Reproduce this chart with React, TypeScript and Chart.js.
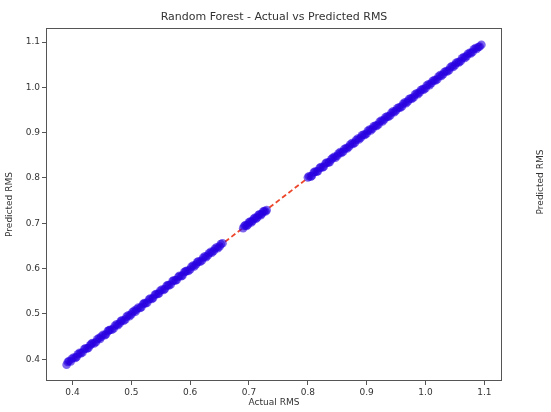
import React, { useEffect, useRef } from 'react';
import { Chart, registerables } from 'chart.js';

Chart.register(...registerables);

const CHART_TITLE = 'Random Forest - Actual vs Predicted RMS';
const X_LABEL = 'Actual RMS';
const Y_LABEL = 'Predicted RMS';
const RIGHT_LABEL = 'Predicted RMS';

const X_TICKS = [0.4, 0.5, 0.6, 0.7, 0.8, 0.9, 1.0, 1.1];
const Y_TICKS = [0.4, 0.5, 0.6, 0.7, 0.8, 0.9, 1.0, 1.1];

const ACTUAL = [
  0.390, 0.394, 0.399, 0.405, 0.409, 0.414, 0.420, 0.425, 0.430, 0.434, 0.440, 0.445, 0.449, 0.455,
  0.460, 0.464, 0.470, 0.475, 0.480, 0.484, 0.490, 0.495, 0.500, 0.505, 0.509, 0.515, 0.520, 0.524,
  0.530, 0.535, 0.540, 0.545, 0.549, 0.555, 0.560, 0.564, 0.570, 0.575, 0.580, 0.585, 0.590, 0.594,
  0.600, 0.605, 0.610, 0.614, 0.620, 0.625, 0.630, 0.635, 0.640, 0.645, 0.650, 0.655,
  0.690, 0.694, 0.698, 0.702, 0.706, 0.710, 0.714, 0.718, 0.722, 0.726, 0.730,
  0.800, 0.805, 0.810, 0.815, 0.820, 0.825, 0.830, 0.835, 0.840, 0.845, 0.850, 0.855, 0.860, 0.865,
  0.870, 0.875, 0.880, 0.885, 0.890, 0.895, 0.900, 0.905, 0.910, 0.915, 0.920, 0.925, 0.930, 0.935,
  0.940, 0.945, 0.950, 0.955, 0.960, 0.965, 0.970, 0.975, 0.980, 0.985, 0.990, 0.995, 1.000, 1.005,
  1.010, 1.015, 1.020, 1.025, 1.030, 1.035, 1.040, 1.045, 1.050, 1.055, 1.060, 1.065, 1.070, 1.075,
  1.080, 1.085, 1.090, 1.095,
  0.392, 0.397, 0.402, 0.407, 0.412, 0.417, 0.422, 0.427, 0.432, 0.437, 0.442, 0.447, 0.452, 0.457,
  0.462, 0.467, 0.472, 0.477, 0.482, 0.487, 0.492, 0.497, 0.502, 0.507, 0.512, 0.517, 0.522, 0.527,
  0.532, 0.537, 0.542, 0.547, 0.552, 0.557, 0.562, 0.567, 0.572, 0.577, 0.582, 0.587, 0.592, 0.597,
  0.602, 0.607, 0.612, 0.617, 0.622, 0.627, 0.632, 0.637, 0.642, 0.647, 0.652,
  0.692, 0.696, 0.700, 0.704, 0.708, 0.712, 0.716, 0.720, 0.724, 0.728,
  0.802, 0.807, 0.812, 0.817, 0.822, 0.827, 0.832, 0.837, 0.842, 0.847, 0.852, 0.857, 0.862, 0.867,
  0.872, 0.877, 0.882, 0.887, 0.892, 0.897, 0.902, 0.907, 0.912, 0.917, 0.922, 0.927, 0.932, 0.937,
  0.942, 0.947, 0.952, 0.957, 0.962, 0.967, 0.972, 0.977, 0.982, 0.987, 0.992, 0.997, 1.002, 1.007,
  1.012, 1.017, 1.022, 1.027, 1.032, 1.037, 1.042, 1.047, 1.052, 1.057, 1.062, 1.067, 1.072, 1.077,
  1.082, 1.087, 1.092,
];

const PREDICTED = [
  0.388, 0.396, 0.401, 0.403, 0.411, 0.413, 0.422, 0.424, 0.431, 0.436, 0.438, 0.447, 0.450, 0.453,
  0.462, 0.465, 0.468, 0.477, 0.479, 0.486, 0.488, 0.497, 0.499, 0.507, 0.510, 0.513, 0.522, 0.523,
  0.532, 0.533, 0.542, 0.544, 0.551, 0.553, 0.562, 0.563, 0.572, 0.574, 0.582, 0.583, 0.592, 0.595,
  0.598, 0.607, 0.609, 0.616, 0.618, 0.627, 0.629, 0.637, 0.639, 0.647, 0.649, 0.656,
  0.689, 0.696, 0.697, 0.704, 0.705, 0.712, 0.713, 0.720, 0.721, 0.727, 0.729,
  0.801, 0.803, 0.812, 0.814, 0.822, 0.823, 0.832, 0.834, 0.841, 0.847, 0.849, 0.857, 0.858, 0.866,
  0.869, 0.877, 0.878, 0.887, 0.889, 0.896, 0.898, 0.907, 0.909, 0.916, 0.918, 0.927, 0.929, 0.936,
  0.938, 0.947, 0.949, 0.956, 0.958, 0.967, 0.969, 0.976, 0.978, 0.987, 0.989, 0.996, 0.998, 1.007,
  1.009, 1.016, 1.018, 1.027, 1.029, 1.036, 1.038, 1.047, 1.049, 1.056, 1.058, 1.067, 1.069, 1.076,
  1.078, 1.087, 1.089, 1.094,
  0.394, 0.395, 0.404, 0.405, 0.414, 0.415, 0.424, 0.425, 0.434, 0.435, 0.444, 0.445, 0.454, 0.455,
  0.464, 0.465, 0.474, 0.475, 0.484, 0.485, 0.494, 0.495, 0.504, 0.505, 0.514, 0.515, 0.524, 0.525,
  0.534, 0.535, 0.544, 0.545, 0.554, 0.555, 0.564, 0.565, 0.574, 0.575, 0.584, 0.585, 0.594, 0.595,
  0.604, 0.605, 0.614, 0.615, 0.624, 0.625, 0.634, 0.635, 0.644, 0.645, 0.654,
  0.694, 0.694, 0.702, 0.702, 0.710, 0.710, 0.718, 0.718, 0.726, 0.726,
  0.804, 0.805, 0.814, 0.815, 0.824, 0.825, 0.834, 0.835, 0.844, 0.845, 0.854, 0.855, 0.864, 0.865,
  0.874, 0.875, 0.884, 0.885, 0.894, 0.895, 0.904, 0.905, 0.914, 0.915, 0.924, 0.925, 0.934, 0.935,
  0.944, 0.945, 0.954, 0.955, 0.964, 0.965, 0.974, 0.975, 0.984, 0.985, 0.994, 0.995, 1.004, 1.005,
  1.014, 1.015, 1.024, 1.025, 1.034, 1.035, 1.044, 1.045, 1.054, 1.055, 1.064, 1.065, 1.074, 1.075,
  1.084, 1.085, 1.090,
];

const X_MIN = 0.355;
const X_MAX = 1.13;
const Y_MIN = 0.352;
const Y_MAX = 1.131;

const FONT = 'DejaVu Sans';
const TEXT_COLOR = '#333333';
const AXIS_COLOR = '#555555';

const framePlugin = {
  id: 'frame',
  afterDraw(chart: any) {
    const { ctx, chartArea: a } = chart;
    ctx.save();
    ctx.strokeStyle = AXIS_COLOR;
    ctx.lineWidth = 1;
    ctx.strokeRect(Math.round(a.left) + 0.5, Math.round(a.top) + 0.5, Math.round(a.right - a.left) - 1, Math.round(a.bottom - a.top) - 1);
    ctx.fillStyle = TEXT_COLOR;
    ctx.font = `11px "${FONT}"`;
    ctx.textAlign = 'center';
    ctx.textBaseline = 'middle';
    ctx.fillText(CHART_TITLE, (a.left + a.right) / 2, 17);
    ctx.font = `9px "${FONT}"`;
    ctx.translate(541, 182);
    ctx.rotate(-Math.PI / 2);
    ctx.fillText(RIGHT_LABEL, 0, 0);
    ctx.restore();
  },
};

export default function App() {
  const ref = useRef<HTMLCanvasElement | null>(null);
  useEffect(() => {
    if (!ref.current) return;
    const points = ACTUAL.map((x, i) => ({ x, y: PREDICTED[i] }));
    const lo = Math.min(...ACTUAL);
    const hi = Math.max(...ACTUAL);
    const chart = new Chart(ref.current, {
      type: 'scatter',
      data: {
        datasets: [
          {
            label: 'Predictions',
            data: points,
            backgroundColor: 'rgba(40,0,225,0.6)',
            borderColor: 'rgba(40,0,225,0.0)',
            borderWidth: 0,
            pointRadius: 4.3,
            order: 0,
          },
          {
            type: 'line',
            label: 'Ideal',
            data: [{ x: lo, y: lo }, { x: hi, y: hi }],
            borderColor: 'rgba(235,50,20,0.9)',
            borderWidth: 1.8,
            borderDash: [5, 3],
            pointRadius: 0,
            fill: false,
            order: 1,
          } as any,
        ],
      },
      options: {
        animation: false,
        responsive: true,
        maintainAspectRatio: false,
        layout: { padding: { top: 28, right: 49, left: 0, bottom: 0 } },
        plugins: { legend: { display: false }, tooltip: { enabled: false }, title: { display: false } },
        scales: {
          x: {
            type: 'linear',
            min: X_MIN,
            max: X_MAX,
            afterBuildTicks: (s: any) => { s.ticks = X_TICKS.map((v) => ({ value: v })); },
            afterFit: (s: any) => { s.height = 31; },
            border: { display: false },
            grid: { drawOnChartArea: false, drawTicks: true, tickLength: 4, color: AXIS_COLOR },
            ticks: {
              padding: 2,
              color: TEXT_COLOR,
              font: { family: FONT, size: 9 },
              maxRotation: 0,
              autoSkip: false,
              callback: (v: any) => Number(v).toFixed(1),
            },
            title: {
              display: true,
              text: X_LABEL,
              color: TEXT_COLOR,
              font: { family: FONT, size: 9 },
              padding: { top: 0, bottom: 4 },
            },
          },
          y: {
            type: 'linear',
            min: Y_MIN,
            max: Y_MAX,
            afterBuildTicks: (s: any) => { s.ticks = Y_TICKS.map((v) => ({ value: v })); },
            afterFit: (s: any) => { s.width = 46; },
            border: { display: false },
            grid: { drawOnChartArea: false, drawTicks: true, tickLength: 4, color: AXIS_COLOR },
            ticks: {
              padding: 2,
              color: TEXT_COLOR,
              font: { family: FONT, size: 9 },
              autoSkip: false,
              callback: (v: any) => Number(v).toFixed(1),
            },
            title: {
              display: true,
              text: Y_LABEL,
              color: TEXT_COLOR,
              font: { family: FONT, size: 9 },
              padding: { top: 4, bottom: 0 },
            },
          },
        },
      },
      plugins: [framePlugin],
    });
    return () => chart.destroy();
  }, []);
  return (
    <div style={{ position: 'absolute', left: 0, top: 0, width: 551, height: 412, background: '#fff' }}>
      <canvas ref={ref} />
    </div>
  );
}
